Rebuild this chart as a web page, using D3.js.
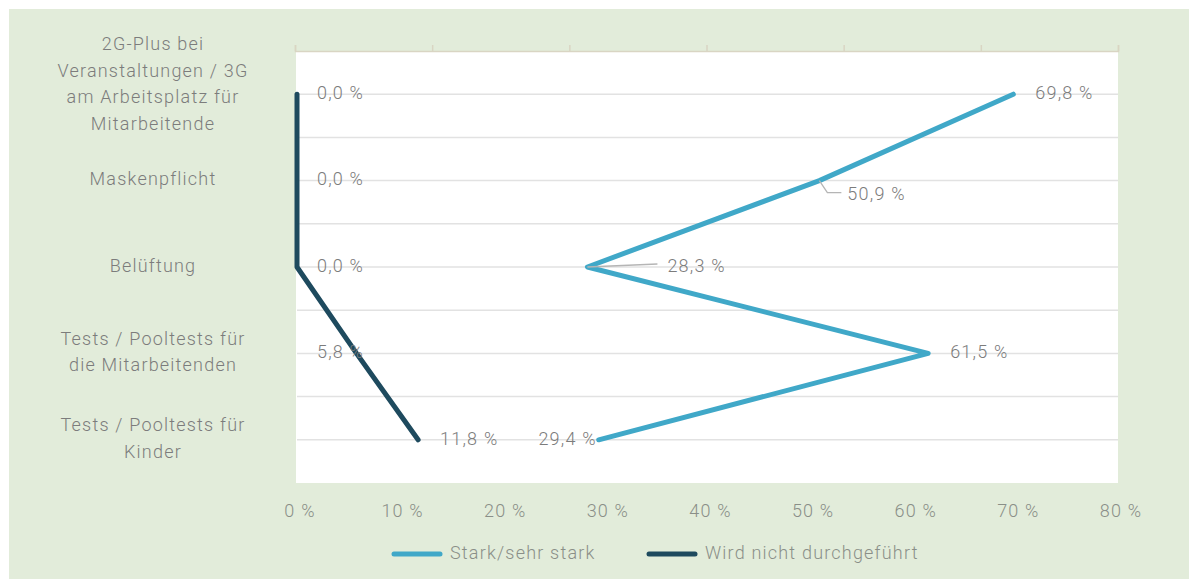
<!DOCTYPE html>
<html>
<head>
<meta charset="utf-8">
<script src="https://cdn.jsdelivr.net/npm/d3@7"></script>
<style>
    body { margin: 0; background: #ffffff; }
    text { font-family: Roboto, "DejaVu Sans", sans-serif; font-weight: 300; letter-spacing: 1.2px; }
</style>
</head>
<body>
<script>
// categories (top to bottom) and the two series
var categories = [
    "2G-Plus bei Veranstaltungen / 3G am Arbeitsplatz für Mitarbeitende",
    "Maskenpflicht",
    "Belüftung",
    "Tests / Pooltests für die Mitarbeitenden",
    "Tests / Pooltests für Kinder"
];
// wrapped lines of the category labels
var categoryLines = [
    ["2G-Plus bei", "Veranstaltungen / 3G", "am Arbeitsplatz für", "Mitarbeitende"],
    ["Maskenpflicht"],
    ["Belüftung"],
    ["Tests / Pooltests für", "die Mitarbeitenden"],
    ["Tests / Pooltests für", "Kinder"]
];
var starkValues = [69.8, 50.9, 28.3, 61.5, 29.4];
var nichtValues = [0.0, 0.0, 0.0, 5.8, 11.8];
var seriesNames = ["Stark/sehr stark", "Wird nicht durchgeführt"];
var xTicks = [0, 10, 20, 30, 40, 50, 60, 70, 80];

window.onload = function(){

    var w = 1189, h = 579;
    var left = 297, right = 1118, top = 51, bottom = 483;
    var lightBlue = "#40a8c8", darkBlue = "#1e4a5e";
    var textGrey = "#7c7c7c";

    var svg = d3.select("body").append("svg")
        .attr("width", w)
        .attr("height", h);

    // green page background with a thin white margin top/left
    svg.append("rect")
        .attr("x", 9).attr("y", 9)
        .attr("width", w - 9).attr("height", h - 9)
        .style("fill", "#e2ecda");

    // white plot area
    svg.append("rect")
        .attr("x", left - 1).attr("y", top)
        .attr("width", right - left + 1).attr("height", bottom - top)
        .style("fill", "#ffffff");

    var x = d3.scaleLinear().domain([0, 80]).range([left, right]);
    var y = d3.scaleBand().domain(categories).range([top, bottom]);
    var half = y.bandwidth() / 2;
    function cy(c){ return y(c) + half; }

    // horizontal gridlines: at each category and halfway between
    var gridYs = [];
    categories.forEach(function(c, i){
        gridYs.push(cy(c));
        if (i > 0) gridYs.push(y(c));
    });
    svg.selectAll(".grid")
        .data(gridYs)
        .enter()
        .append("line")
        .attr("class", "grid")
        .attr("x1", left).attr("x2", right)
        .attr("y1", function(d){ return d; })
        .attr("y2", function(d){ return d; })
        .style("stroke", "#e2e2e2")
        .style("stroke-width", 1.5);

    // unlabeled secondary axis along the top
    var xTop = d3.scaleLinear().domain([0, 6]).range([left - 2, right]);
    var topAxis = svg.append("g")
        .attr("transform", "translate(0," + top + ")")
        .call(d3.axisTop(xTop).ticks(6).tickSize(6).tickFormat(""));
    topAxis.selectAll("path, line")
        .style("stroke", "#d9d5c3")
        .style("stroke-width", 1.5);

    // bottom axis labels
    var fmtTick = function(d){ return d + " %"; };
    svg.selectAll(".xtick")
        .data(xTicks)
        .enter()
        .append("text")
        .attr("class", "xtick")
        .attr("x", function(d){ return x(d) + 3; })
        .attr("y", 512)
        .attr("text-anchor", "middle")
        .attr("dominant-baseline", "middle")
        .style("font-size", "18px")
        .style("fill", "#8a8f88")
        .text(fmtTick);

    // category labels, block centred on each row
    var catLabels = svg.selectAll(".cat")
        .data(categories)
        .enter()
        .append("text")
        .attr("class", "cat")
        .attr("text-anchor", "middle")
        .style("font-size", "18px")
        .style("fill", textGrey);
    catLabels.each(function(c, i){
        var lines = categoryLines[i];
        var lh = 26.5;
        var shift = lines.length > 2 ? -9 : 0;
        var y0 = cy(c) + shift - (lines.length - 1) * lh / 2;
        d3.select(this).selectAll("tspan")
            .data(lines)
            .enter()
            .append("tspan")
            .attr("x", 153)
            .attr("y", function(d, j){ return y0 + j * lh; })
            .attr("dominant-baseline", "middle")
            .text(function(d){ return d; });
    });

    // the two lines
    var line = d3.line()
        .x(function(d){ return x(d.v); })
        .y(function(d){ return cy(d.c); });

    function toPoints(vals){
        return vals.map(function(v, i){ return { c: categories[i], v: v, i: i }; });
    }
    var stark = toPoints(starkValues);
    var nicht = toPoints(nichtValues);

    [[nicht, darkBlue], [stark, lightBlue]].forEach(function(s){
        svg.append("path")
            .datum(s[0])
            .attr("d", line)
            .style("fill", "none")
            .style("stroke", s[1])
            .style("stroke-width", 5)
            .style("stroke-linecap", "round")
            .style("stroke-linejoin", "round");
    });

    // value labels
    var fmtVal = function(v){ return d3.format(".1f")(v).replace(".", ",") + " %"; };

    function addLabel(px, py, anchor, txt){
        svg.append("text")
            .attr("x", px).attr("y", py)
            .attr("text-anchor", anchor)
            .attr("dominant-baseline", "middle")
            .style("font-size", "18px")
            .style("fill", textGrey)
            .text(txt);
    }

    // small values sit just right of the zero line, larger ones right of the point
    nicht.forEach(function(d){
        var px = d.v > 10 ? x(d.v) + 22 : x(0) + 20;
        addLabel(px, cy(d.c), "start", fmtVal(d.v));
    });

    var leader = svg.append("g")
        .style("fill", "none")
        .style("stroke", "#b5b5b5")
        .style("stroke-width", 1.3);

    stark.forEach(function(d){
        var px = x(d.v), py = cy(d.c);
        if (d.i === 1) {
            // label pushed below-right with an elbow leader
            leader.append("path")
                .attr("d", "M" + px + "," + py + " L" + (px + 8) + "," + (py + 12) + " H" + (px + 22));
            addLabel(px + 28, py + 15, "start", fmtVal(d.v));
        } else if (d.i === 2) {
            leader.append("path")
                .attr("d", "M" + px + "," + py + " L" + (px + 70) + "," + (py - 3));
            addLabel(px + 80, py, "start", fmtVal(d.v));
        } else if (d.i === 4) {
            addLabel(px - 2, py, "end", fmtVal(d.v));
        } else {
            addLabel(px + 22, py, "start", fmtVal(d.v));
        }
    });

    // legend
    var legend = [
        { name: seriesNames[0], color: lightBlue, x: 392 },
        { name: seriesNames[1], color: darkBlue, x: 647 }
    ];
    var lg = svg.selectAll(".legend")
        .data(legend)
        .enter()
        .append("g")
        .attr("class", "legend")
        .attr("transform", function(d){ return "translate(" + d.x + ",554)"; });
    lg.append("line")
        .attr("x1", 2).attr("x2", 48)
        .style("stroke", function(d){ return d.color; })
        .style("stroke-width", 5)
        .style("stroke-linecap", "round");
    lg.append("text")
        .attr("x", 58)
        .attr("dominant-baseline", "middle")
        .style("font-size", "18px")
        .style("fill", "#8a8f88")
        .text(function(d){ return d.name; });
};
</script>
</body>
</html>
